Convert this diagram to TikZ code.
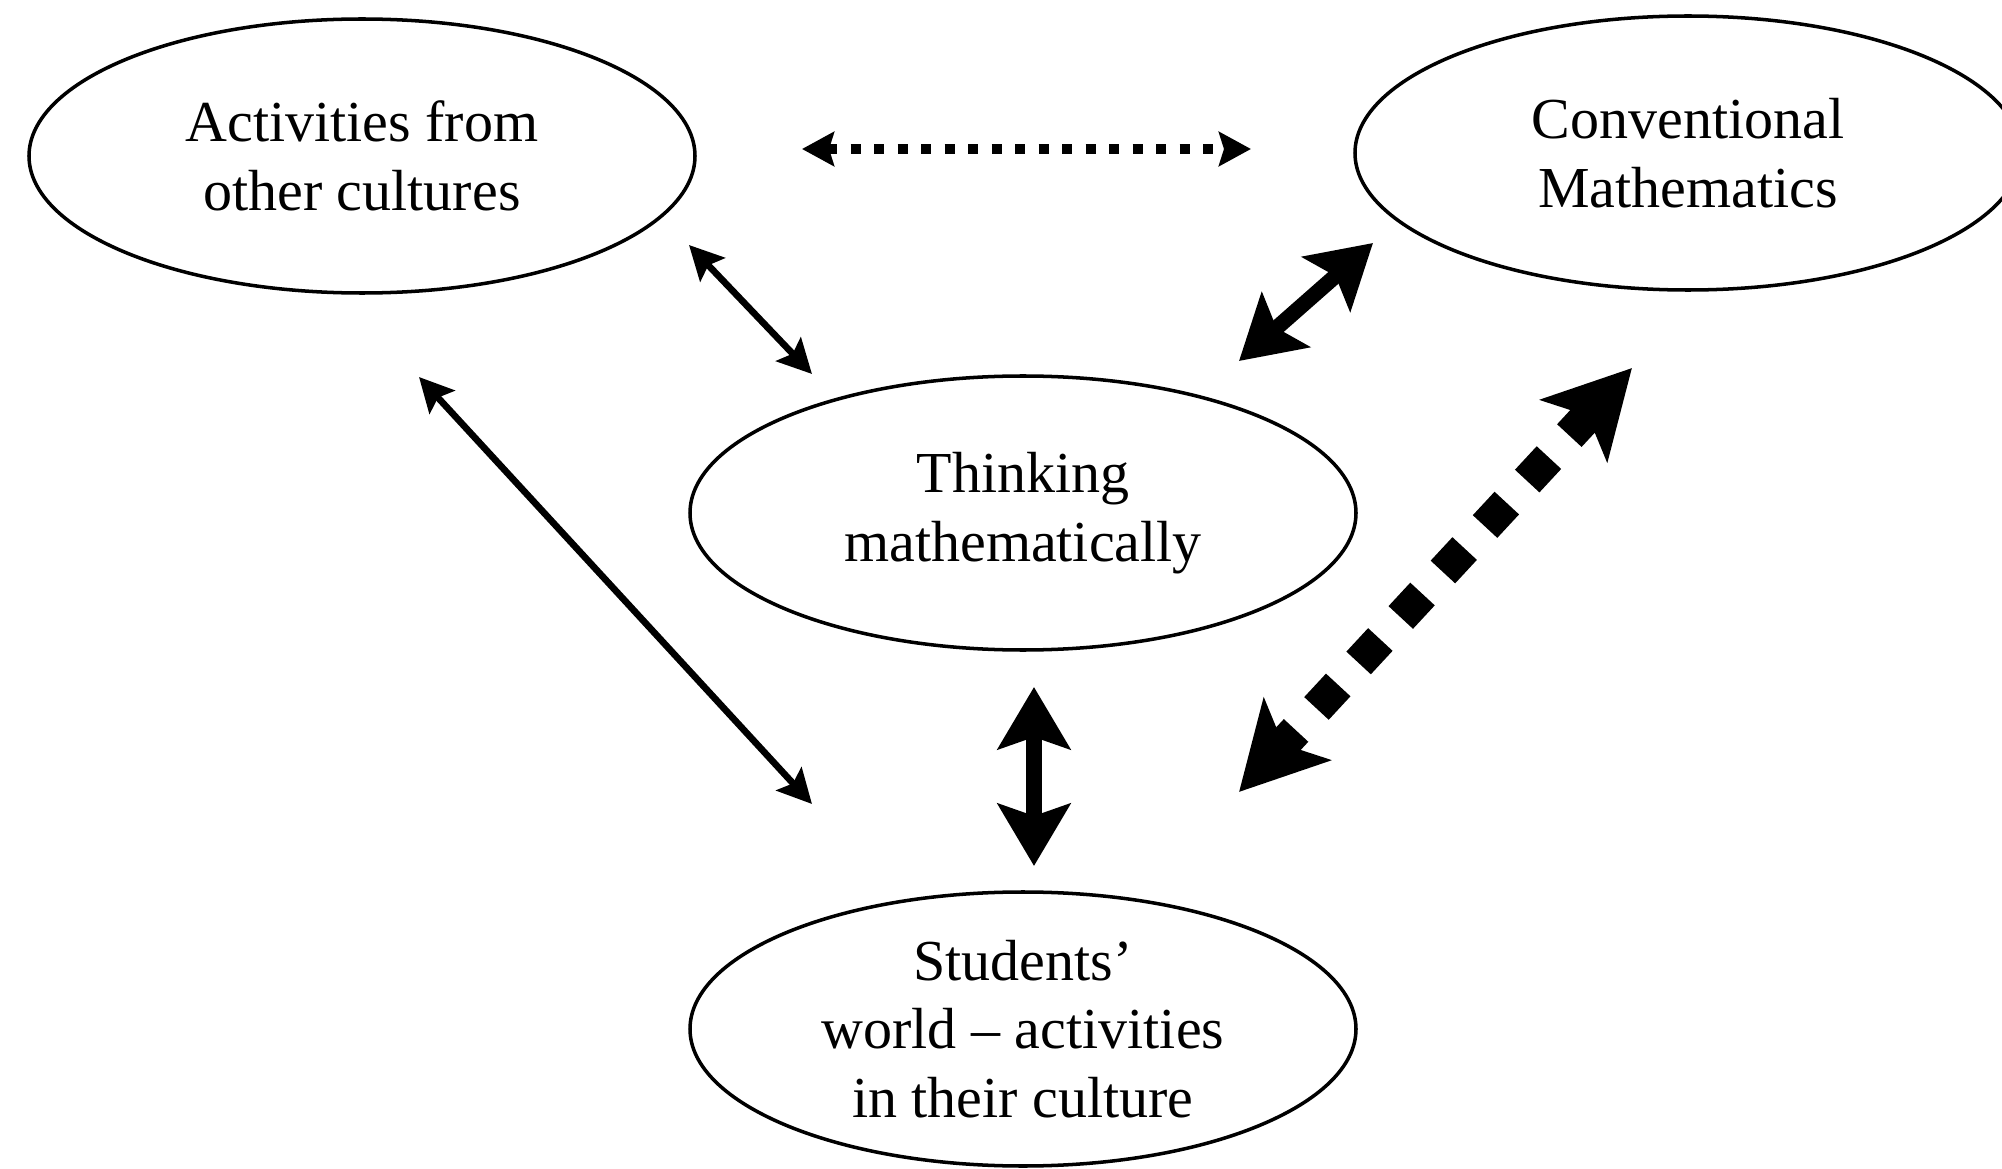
\documentclass[tikz,border=0pt]{standalone}
\usepackage{fontspec}
\setmainfont{Liberation Serif}
\usetikzlibrary{shapes.geometric, arrows.meta}

\begin{document}
\begin{tikzpicture}[%
    idea/.style = {ellipse, draw, line width=1pt, minimum width=6.66cm,
        minimum height=2.74cm, inner sep=0pt, align=center,
        font=\fontsize{16.5}{19.5}\selectfont},
    thin link/.style = {line width=1.9pt,
        {Stealth[length=0.34cm, width=0.34cm, inset=0.06cm]}-{Stealth[length=0.34cm, width=0.34cm, inset=0.06cm]}},
    thick link/.style = {line width=4.4pt,
        {Stealth[length=0.62cm, width=0.72cm, inset=0.12cm]}-{Stealth[length=0.62cm, width=0.72cm, inset=0.12cm]}},
    dot link/.style = {line width=2.8pt, dash pattern=on 0.1cm off 0.135cm,
        {Stealth[length=0.32cm, width=0.34cm, inset=0.05cm]}-{Stealth[length=0.32cm, width=0.34cm, inset=0.05cm]}},
    big dot link/.style = {line width=9.5pt, dash pattern=on 0.32cm off 0.3cm,
        {Stealth[length=0.85cm, width=0.9cm, inset=0.2cm]}-{Stealth[length=0.85cm, width=0.9cm, inset=0.2cm]}}
]
\clip (0,0) rectangle (20.02,11.68);
\useasboundingbox (0,0) rectangle (20.02,11.68);

% the four ideas
\node (other) [idea] at (3.62,10.12) {Activities from\\other cultures};
\node (conv)  [idea] at (16.88,10.15) {Conventional\\Mathematics};
\node (think) [idea] at (10.23,6.55) {Thinking\\mathematically};
\node (world) [idea] at (10.23,1.39) {Students’\\world – activities\\in their culture};

% arrow ends, kept clear of the ellipses
\coordinate (o1) at (8.02,10.19);
\coordinate (c1) at (12.51,10.19);
\coordinate (o2) at (6.89,9.23);
\coordinate (t1) at (8.12,7.94);
\coordinate (o3) at (4.19,7.91);
\coordinate (w1) at (8.12,3.64);
\coordinate (c2) at (13.73,9.25);
\coordinate (t2) at (12.39,8.07);
\coordinate (c3) at (16.32,8.00);
\coordinate (w2) at (12.39,3.76);
\coordinate (t3) at (10.34,4.81);
\coordinate (w3) at (10.34,3.02);

\path
    (o1) edge [dot link] (c1)
    (o2) edge [thin link] (t1)
    (o3) edge [thin link] (w1)
    (c2) edge [thick link] (t2)
    (c3) edge [big dot link] (w2)
    (t3) edge [thick link] (w3)
    ;
\end{tikzpicture}
\end{document}
